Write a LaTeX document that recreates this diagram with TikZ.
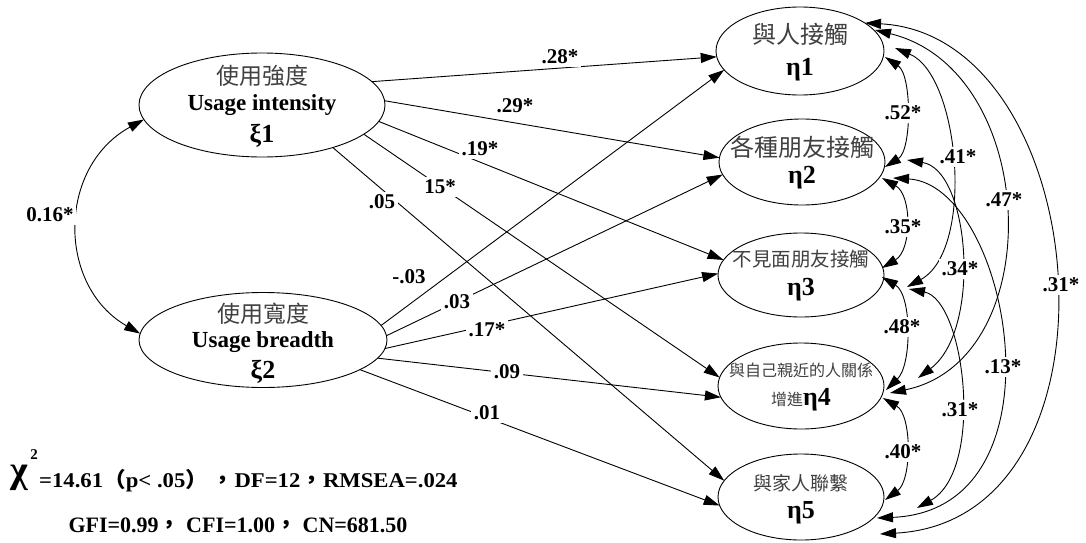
\documentclass[tikz,border=0pt]{standalone}
\usepackage{fontspec}
\usepackage{graphicx}
\setmainfont{Liberation Serif}
\newfontfamily\cjk{Noto Sans CJK TC}
\usetikzlibrary{shapes.geometric,arrows.meta,calc}
\begin{document}
\begin{tikzpicture}[x=1pt,y=-1pt,
  >={Triangle[length=16pt,width=10pt]},
  lat/.style={ellipse,draw,line width=0.9pt,inner sep=0pt,outer sep=0pt},
  reg/.style={line width=0.9pt,->},
  cov/.style={line width=0.9pt,<->},
  coef/.style={fill=white,inner sep=2.5pt,font=\fontsize{21}{21}\selectfont\bfseries},
  zh/.style={anchor=base,inner sep=0pt,text=black!75,font=\cjk\fontsize{#1}{#1}\selectfont},
  gk/.style={anchor=base,inner sep=0pt,font=\fontsize{26}{26}\selectfont\bfseries},
  en/.style={anchor=base,inner sep=0pt,font=\fontsize{23}{23}\selectfont\bfseries},
]
\useasboundingbox (0,0) rectangle (1086,543);

% latent variables
\node[lat,minimum width=246pt,minimum height=104pt] (xi1) at (262,105) {};
\node[lat,minimum width=248pt,minimum height=95pt] (xi2) at (263,340) {};
\node[lat,minimum width=168pt,minimum height=88pt] (eta1) at (800,51) {};
\node[lat,minimum width=166pt,minimum height=86pt] (eta2) at (802,162) {};
\node[lat,minimum width=166pt,minimum height=84pt] (eta3) at (801,275) {};
\node[lat,minimum width=166pt,minimum height=86pt] (eta4) at (801,386) {};
\node[lat,minimum width=166pt,minimum height=86pt] (eta5) at (801,497) {};

% texts in ellipses
\node[zh=23] (xi1a) at (262,84) {使用強度};
\node[en] (xi1b) at (262,110) {Usage intensity};
\node[gk] (xi1c) at (262,142) {ξ1};
\node[zh=23] (xi2a) at (263,322) {使用寬度};
\node[en] (xi2b) at (263,347) {Usage breadth};
\node[gk] (xi2c) at (263,378) {ξ2};
\node[zh=24] (e1a) at (800,44) {與人接觸};
\node[gk] (e1b) at (800,75) {η1};
\node[zh=24] (e2a) at (802,156) {各種朋友接觸};
\node[gk] (e2b) at (802,183) {η2};
\node[zh=19.5] (e3a) at (801,266) {不見面朋友接觸};
\node[gk] (e3b) at (801,295) {η3};
\node[zh=16] (e4a) at (801,376) {與自己親近的人關係};
\node[gk] (e4b) at (801,405) {{\mdseries\cjk\fontsize{16}{16}\selectfont\color{black!75}增進}η4};
\node[zh=19] (e5a) at (801,490) {與家人聯繫};
\node[gk] (e5b) at (801,518) {η5};

% structural paths
\draw[reg] (xi1.12) -- (eta1.184);
\draw[reg] (xi1.2) -- (eta2.177);
\draw[reg] (xi1.-8) -- (eta3.169);
\draw[reg] (xi1.-16) -- (eta4.174);
\draw[reg] (xi1.-31) -- (eta5.168);
\draw[reg] (xi2.7) -- (eta1.194);
\draw[reg] (xi2.2) -- (eta2.189);
\draw[reg] (xi2.-4) -- (eta3.179);
\draw[reg] (xi2.-9) -- (eta4.188);
\draw[reg] (xi2.-17) -- (eta5.186);

% covariance between exogenous
\draw[cov] (xi1.187) .. controls (57,167) and (57,286) .. (xi2.177);

% covariances among endogenous
\draw[cov] ($(eta1.center)+(85,6)$) .. controls (912,75) and (912,150) .. ($(eta2.center)+(83,5)$);
\draw[cov] ($(eta2.center)+(80,16)$) .. controls (912,195) and (912,250) .. ($(eta3.center)+(81,-7)$);
\draw[cov] ($(eta3.center)+(81,2)$) .. controls (912,295) and (912,365) .. ($(eta4.center)+(85,4)$);
\draw[cov] ($(eta4.center)+(82,12)$) .. controls (912,415) and (912,480) .. ($(eta5.center)+(84,3)$);
\draw[cov] ($(eta1.center)+(95,-3)$) .. controls (960,75) and (975,250) .. ($(eta3.center)+(106,12)$);
\draw[cov] ($(eta1.center)+(75,-21)$) .. controls (1040,70) and (1050,360) .. ($(eta4.center)+(89,7)$);
\draw[cov] ($(eta1.center)+(65,-28)$) .. controls (1095,35) and (1135,520) .. ($(eta5.center)+(79,37)$);
\draw[cov] ($(eta2.center)+(105,-2)$) .. controls (970,170) and (982,330) .. ($(eta4.center)+(117,-8)$);
\draw[cov] ($(eta2.center)+(91,16)$) .. controls (1010,185) and (1070,510) .. ($(eta5.center)+(76,21)$);
\draw[cov] ($(eta3.center)+(108,14)$) .. controls (965,300) and (985,470) .. ($(eta5.center)+(116,11)$);

% coefficients
\node[coef] (c1) at (560,57) {.28*};
\node[coef] (c2) at (515,106) {.29*};
\node[coef] (c3) at (480,149) {.19*};
\node[coef] (c4) at (440,187) {15*};
\node[coef] (c5) at (382,202) {.05};
\node[coef] (c6) at (409,277) {-.03};
\node[coef] (c7) at (457,302) {.03};
\node[coef] (c8) at (487,330) {.17*};
\node[coef] (c9) at (507,372) {.09};
\node[coef] (c10) at (487,413) {.01};
\node[coef] (c11) at (50,215) {0.16*};
\node[coef] (c12) at (903,113) {.52*};
\node[coef] (c13) at (903,227) {.35*};
\node[coef] (c14) at (902,327) {.48*};
\node[coef] (c15) at (903,452) {.40*};
\node[coef] (c16) at (958,157) {.41*};
\node[coef] (c17) at (1004,200) {.47*};
\node[coef] (c18) at (960,269) {.34*};
\node[coef] (c19) at (1003,367) {.13*};
\node[coef] (c20) at (960,410) {.31*};
\node[coef] (c21) at (1061,285) {.31*};

% fit indices
\node[anchor=base west,inner sep=0pt,font=\bfseries\fontsize{38}{38}\selectfont] (chi) at (10,482) {χ};
\node[inner sep=0pt,font=\bfseries\fontsize{15}{15}\selectfont] (chisup) at (34,455) {2};
\node[anchor=base west,inner sep=0pt,font=\bfseries\fontsize{21}{21}\selectfont] (fit1) at (39,487) {\scalebox{1.08}[1]{=14.61{\cjk （}p< .05{\cjk ）}\,{\cjk ，}DF=12{\cjk ，}RMSEA=.024}};
\node[anchor=base,inner sep=0pt,font=\bfseries\fontsize{22}{22}\selectfont] (fit2) at (238,532) {GFI=0.99{\cjk ，} CFI=1.00{\cjk ，} CN=681.50};
\end{tikzpicture}
\end{document}
